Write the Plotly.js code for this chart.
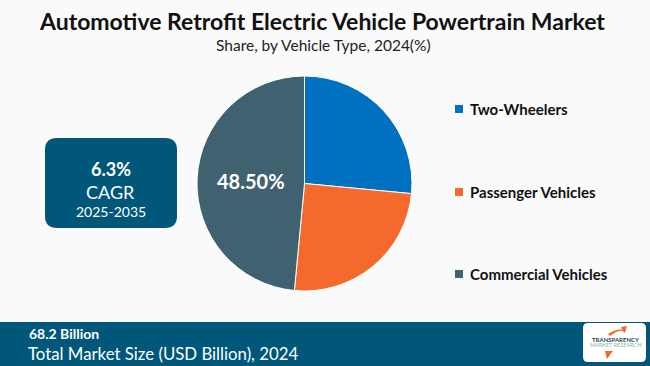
<!DOCTYPE html>
<html>
<head>
<meta charset="utf-8">
<script src="https://cdn.plot.ly/plotly-3.0.1.min.js"></script>
<style>
html,body{margin:0;padding:0;background:#FAFAFA;}
#chart{width:650px;height:366px;}
</style>
</head>
<body>
<div id="chart"></div>
<script>
const categories = ['Two-Wheelers', 'Passenger Vehicles', 'Commercial Vehicles'];
const shares = [26.5, 25.0, 48.5];
const sliceColors = ['#0070C0', '#F46A2C', '#3F6170'];
const shownLabel = [false, false, true];
const titleText = 'Automotive Retrofit Electric Vehicle Powertrain Market';
const subtitleText = 'Share, by Vehicle Type, 2024(%)';
const cagrValue = '6.3%';
const cagrPeriod = '2025-2035';
const marketSize = '68.2 Billion';
const marketLabel = 'Total Market Size (USD Billion), 2024';

const W = 650, H = 366;
const py = v => 1 - v / H;
const px = v => v / W;

const pie = {
  type: 'pie',
  labels: categories,
  values: shares,
  sort: false,
  direction: 'clockwise',
  rotation: 0,
  marker: {colors: sliceColors, line: {color: '#FFFFFF', width: 1}},
  texttemplate: shownLabel.map(s => s ? '%{value:.2f}%' : ''),
  textposition: 'inside',
  insidetextorientation: 'horizontal',
  textfont: {family: 'Lato, sans-serif', size: 20, color: '#FFFFFF', weight: 'bold'},
  hoverinfo: 'none',
  showlegend: false,
  domain: {x: [px(197), px(412)], y: [py(291), py(76)]}
};

const shapes = [
  {type: 'rect', xref: 'paper', yref: 'paper', x0: 0, x1: 1, y0: 0, y1: py(322), fillcolor: '#00577A', line: {width: 0}, layer: 'below'},
  {type: 'path', xref: 'paper', yref: 'paper', layer: 'below', fillcolor: '#00577A', line: {width: 0},
   path: (function(){
     const x0 = px(45), x1 = px(177), y0 = py(228), y1 = py(138);
     const rx = 12 / W, ry = 12 / H;
     return `M ${x0+rx},${y1} L ${x1-rx},${y1} Q ${x1},${y1} ${x1},${y1-ry} L ${x1},${y0+ry} Q ${x1},${y0} ${x1-rx},${y0} L ${x0+rx},${y0} Q ${x0},${y0} ${x0},${y0+ry} L ${x0},${y1-ry} Q ${x0},${y1} ${x0+rx},${y1} Z`;
   })()},
  {type: 'path', xref: 'paper', yref: 'paper', fillcolor: '#FFFFFF', line: {width: 0},
   path: (function(){
     const x0 = px(583), x1 = px(646), y0 = py(362), y1 = py(323);
     const rx = 5 / W, ry = 5 / H;
     return `M ${x0+rx},${y1} L ${x1-rx},${y1} Q ${x1},${y1} ${x1},${y1-ry} L ${x1},${y0+ry} Q ${x1},${y0} ${x1-rx},${y0} L ${x0+rx},${y0} Q ${x0},${y0} ${x0},${y0+ry} L ${x0},${y1-ry} Q ${x0},${y1} ${x0+rx},${y1} Z`;
   })()},
  {type: 'path', xref: 'paper', yref: 'paper', fillcolor: '#F46A2C', line: {width: 0},
   path: `M ${px(608)},${py(334)} Q ${px(618)},${py(328)} ${px(622)},${py(330)} L ${px(621)},${py(327)} L ${px(627)},${py(326)} L ${px(625)},${py(333)} L ${px(623)},${py(331)} Q ${px(618)},${py(330)} ${px(610)},${py(336)} Z`},
  {type: 'path', xref: 'paper', yref: 'paper', fillcolor: '#F46A2C', line: {width: 0},
   path: `M ${px(605)},${py(351)} L ${px(613)},${py(351)} L ${px(607)},${py(359)} Z`}
];

const legendY = [109, 192, 274];
categories.forEach((c, i) => {
  shapes.push({type: 'rect', xref: 'paper', yref: 'paper',
    x0: px(455), x1: px(463), y0: py(legendY[i] + 4), y1: py(legendY[i] - 4),
    fillcolor: sliceColors[i], line: {width: 0}});
});

const annotations = [
  {text: '<b>' + titleText + '</b>', x: px(322), y: py(21), xref: 'paper', yref: 'paper', showarrow: false,
   font: {family: 'Lato, sans-serif', size: 23, color: '#111111'}, xanchor: 'center', yanchor: 'middle'},
  {text: subtitleText, x: px(323), y: py(45), xref: 'paper', yref: 'paper', showarrow: false,
   font: {family: 'Lato, sans-serif', size: 15.5, color: '#222222'}, xanchor: 'center', yanchor: 'middle'},
  {text: '<b>' + cagrValue + '</b>', x: px(111), y: py(169), xref: 'paper', yref: 'paper', showarrow: false,
   font: {family: 'Lato, sans-serif', size: 18, color: '#FFFFFF'}, xanchor: 'center', yanchor: 'middle'},
  {text: 'CAGR', x: px(111), y: py(192), xref: 'paper', yref: 'paper', showarrow: false,
   font: {family: 'Lato, sans-serif', size: 18, color: '#FFFFFF'}, xanchor: 'center', yanchor: 'middle'},
  {text: cagrPeriod, x: px(111), y: py(211), xref: 'paper', yref: 'paper', showarrow: false,
   font: {family: 'Lato, sans-serif', size: 14, color: '#FFFFFF'}, xanchor: 'center', yanchor: 'middle'},
  {text: '<b>' + marketSize + '</b>', x: px(27), y: py(333), xref: 'paper', yref: 'paper', showarrow: false,
   font: {family: 'Lato, sans-serif', size: 14, color: '#FFFFFF'}, xanchor: 'left', yanchor: 'middle'},
  {text: marketLabel, x: px(26), y: py(353), xref: 'paper', yref: 'paper', showarrow: false,
   font: {family: 'Lato, sans-serif', size: 16.8, color: '#FFFFFF'}, xanchor: 'left', yanchor: 'middle'},
  {text: '<b>TRANSPARENCY</b>', x: px(615), y: py(339), xref: 'paper', yref: 'paper', showarrow: false,
   font: {family: 'Lato, sans-serif', size: 6, color: '#1F3F5F'}, xanchor: 'center', yanchor: 'middle'},
  {text: 'MARKET RESEARCH', x: px(615), y: py(345), xref: 'paper', yref: 'paper', showarrow: false,
   font: {family: 'Lato, sans-serif', size: 5.5, color: '#7BBF8A'}, xanchor: 'center', yanchor: 'middle'}
];
categories.forEach((c, i) => {
  annotations.push({text: '<b>' + c + '</b>', x: px(468), y: py(legendY[i]), xref: 'paper', yref: 'paper',
    showarrow: false, font: {family: 'Lato, sans-serif', size: 15, color: '#111111'}, xanchor: 'left', yanchor: 'middle'});
});

Plotly.newPlot('chart', [pie], {
  width: W, height: H,
  margin: {l: 0, r: 0, t: 0, b: 0},
  paper_bgcolor: '#FAFAFA',
  plot_bgcolor: '#FAFAFA',
  showlegend: false,
  shapes: shapes,
  annotations: annotations
}, {staticPlot: true, displayModeBar: false});
</script>
</body>
</html>
